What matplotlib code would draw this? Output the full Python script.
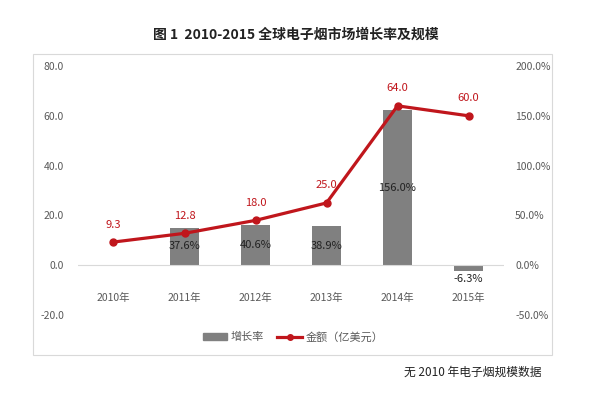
import matplotlib
matplotlib.use("Agg")
import matplotlib.pyplot as plt
from matplotlib.patches import Rectangle
from matplotlib.lines import Line2D
from matplotlib.patches import Patch

plt.rcParams['font.family'] = ['Noto Sans CJK SC', 'DejaVu Sans']

years = ['2010年', '2011年', '2012年', '2013年', '2014年', '2015年']
amount = [9.3, 12.8, 18.0, 25.0, 64.0, 60.0]          # 金额（亿美元）
growth = [None, 37.6, 40.6, 38.9, 156.0, -6.3]        # 增长率 %

red = '#C0161C'
gray = '#808080'
tick_c = '#595959'

fig = plt.figure(figsize=(5.92, 3.96), dpi=100)
fig.patches.append(Rectangle((33 / 592, 1 - 355 / 396), (552 - 33) / 592, (355 - 54) / 396,
                             transform=fig.transFigure, fill=False, edgecolor='#d9d9d9', lw=0.8))

ax = fig.add_axes([78 / 592, 1 - 315 / 396, 426 / 592, 249 / 396])
ax2 = ax.twinx()
ax.set_zorder(ax2.get_zorder() + 1)
ax.patch.set_visible(False)

x = list(range(len(years)))

# 增长率柱子（右轴）
for i, g in enumerate(growth):
    if g is None:
        continue
    ax2.bar(i, g, width=0.4, color=gray, zorder=2)
    if g > 0:
        ax2.text(i, g / 2, f'{g:.1f}%', ha='center', va='center', fontsize=8, color='#222222', zorder=3)
    else:
        ax2.text(i, g - 3, f'{g:.1f}%', ha='center', va='top', fontsize=8, color='#222222')

# 金额折线（左轴）
ax.plot(x, amount, color=red, lw=2.3, marker='o', ms=5, zorder=4)
for i, v in enumerate(amount):
    ax.annotate(f'{v:.1f}', (i, v), xytext=(0, 9), textcoords='offset points',
                ha='center', va='bottom', fontsize=8, color=red)

ax.axhline(0, color='#d9d9d9', lw=0.8, zorder=1)

ax.set_xlim(-0.5, 5.5)
ax.set_ylim(-20, 80)
ax2.set_ylim(-50, 200)
ax.set_yticks([-20, 0, 20, 40, 60, 80])
ax.set_yticklabels([f'{t:.1f}' for t in [-20, 0, 20, 40, 60, 80]])
ax2.set_yticks([-50, 0, 50, 100, 150, 200])
ax2.set_yticklabels([f'{t:.1f}%' for t in [-50, 0, 50, 100, 150, 200]])
ax.set_xticks([])
for a in (ax, ax2):
    for s in a.spines.values():
        s.set_visible(False)
    a.tick_params(axis='y', length=0, labelsize=7.5, labelcolor=tick_c)
ax.tick_params(axis='y', pad=10)
ax2.tick_params(axis='y', pad=8)

for i, y in enumerate(years):
    ax.text(i, -13, y, ha='center', va='center', fontsize=7.5, color=tick_c)

fig.text(0.5, 1 - 35 / 396, '图 1  2010-2015 全球电子烟市场增长率及规模',
         ha='center', va='center', fontsize=10, fontweight='bold', color='#222222')

handles = [Patch(color=gray), Line2D([0], [0], color=red, lw=2.3, marker='o', ms=4)]
fig.legend(handles, ['增长率', '金额（亿美元）'], loc='center', bbox_to_anchor=(293 / 592, 1 - 337 / 396),
           ncol=2, frameon=False, fontsize=8, handlelength=2.2, columnspacing=1.2,
           handletextpad=0.3, labelcolor=tick_c)

fig.text(541 / 592, 1 - 372 / 396, '无 2010 年电子烟规模数据', ha='right', va='center',
         fontsize=8.5, style='italic', color='#222222')

fig.savefig('out.png', dpi=100)
